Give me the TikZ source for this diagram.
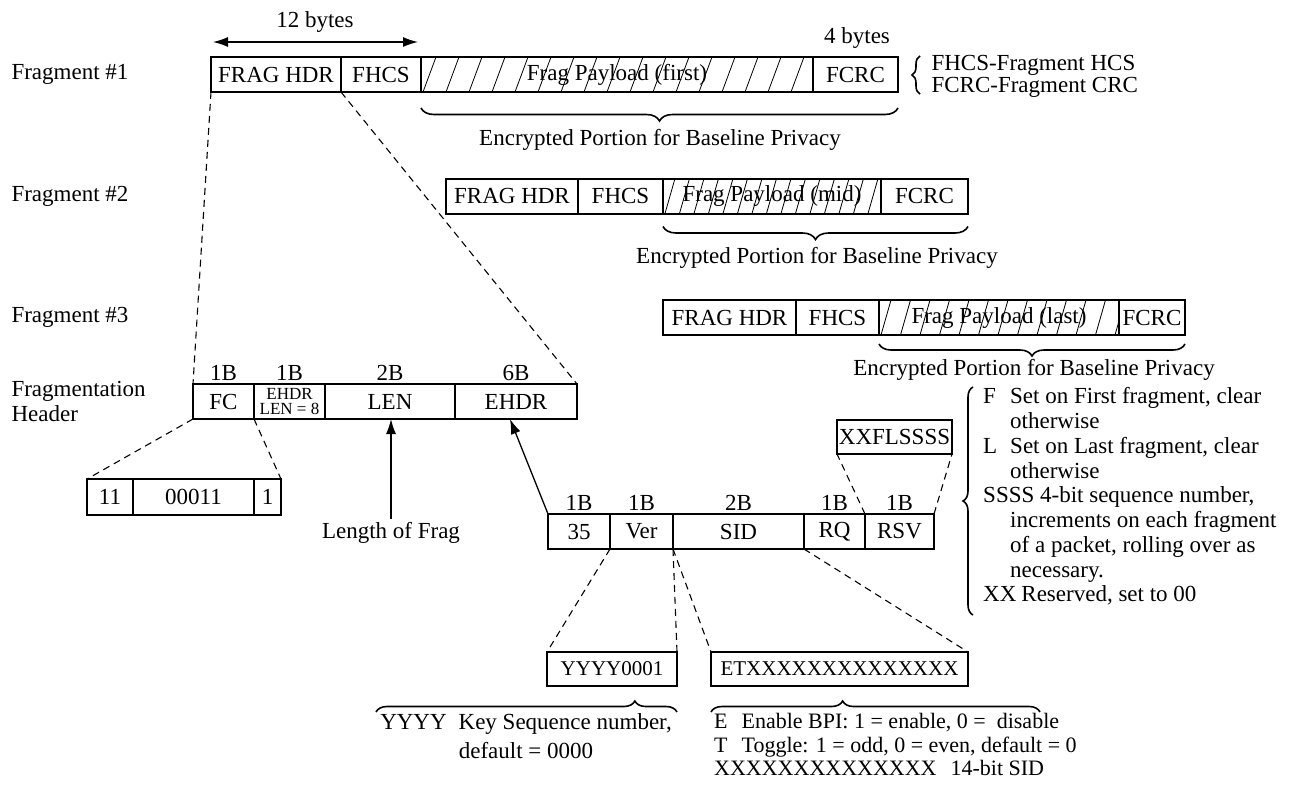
\documentclass[tikz,border=0pt]{standalone}
\usepackage{fontspec}
\setmainfont{Liberation Serif}
\usetikzlibrary{decorations.pathreplacing}
\usetikzlibrary{arrows.meta}

\begin{document}
\begin{tikzpicture}[x=1pt, y=-1pt, font=\fontsize{23}{24.75}\selectfont,
	field/.style={draw, line width=2pt, inner sep=0pt, outer sep=0pt, minimum height=35pt, anchor=west},
	bytelbl/.style={anchor=south, inner sep=3pt},
	zoomline/.style={line width=1.1pt, dash pattern=on 7pt off 5pt},
	hatch/.style={line width=0.8pt},
	curly/.style={decorate, decoration={brace, amplitude=13pt}, line width=1.6pt},
	pointer/.style={line width=1.3pt, -{Latex[length=15pt, width=10pt]}}]
	\useasboundingbox (0,0) rectangle (1292,785);

	\node[anchor=west] (frag1) at (8,74.5) {Fragment \#1};
	\node[anchor=west] (frag2) at (8,196) {Fragment \#2};
	\node[anchor=west] (frag3) at (8,317.5) {Fragment \#3};
	\node[anchor=west, align=left] (fraghdr) at (8,401.5) {Fragmentation\\Header};

	\node[field, minimum width=130pt] (f1hdr) at (211,74.5) {FRAG HDR};
	\node[field, minimum width=80pt] (f1hcs) at (f1hdr.east) {FHCS};
	\node[field, minimum width=392pt] (f1pay) at (f1hcs.east) {Frag Payload (first)};
	\node[field, minimum width=85pt] (f1crc) at (f1pay.east) {FCRC};

	\node[field, minimum width=132pt] (f2hdr) at (446,196) {FRAG HDR};
	\node[field, minimum width=85pt] (f2hcs) at (f2hdr.east) {FHCS};
	\node[field, minimum width=218pt] (f2pay) at (f2hcs.east) {Frag Payload (mid)};
	\node[field, minimum width=87pt] (f2crc) at (f2pay.east) {FCRC};

	\node[field, minimum width=133pt] (f3hdr) at (663,317.5) {FRAG HDR};
	\node[field, minimum width=83pt] (f3hcs) at (f3hdr.east) {FHCS};
	\node[field, minimum width=240pt] (f3pay) at (f3hcs.east) {Frag Payload (last)};
	\node[field, minimum width=66pt] (f3crc) at (f3pay.east) {FCRC};

	\begin{scope}
		\clip (f1pay.north west) rectangle (f1pay.south east);
		\foreach \i in {0,...,17} \draw[hatch] ([xshift=\i*23pt+2pt]f1pay.south west) -- ++(13,-35);
	\end{scope}
	\begin{scope}
		\clip (f2pay.north west) rectangle (f2pay.south east);
		\foreach \i in {0,...,15} \draw[hatch] ([xshift=\i*14.5pt+2pt]f2pay.south west) -- ++(10,-35);
	\end{scope}
	\begin{scope}
		\clip (f3pay.north west) rectangle (f3pay.south east);
		\foreach \i in {0,...,12} \draw[hatch] ([xshift=\i*19.5pt+2pt]f3pay.south west) -- ++(10,-35);
	\end{scope}

	\node (twelve) at (315,22) {12 bytes};
	\coordinate (spanl) at (213,42);
	\coordinate (spanr) at (418,42);
	\draw[line width=1.3pt, {Latex[length=15pt, width=10pt]}-{Latex[length=15pt, width=10pt]}] (spanl) -- (spanr);
	\node (four) at (857,38) {4 bytes};

	\draw[curly, decoration={amplitude=8pt}] (920,94) -- (920,56);
	\node[anchor=west] (fhcsnote) at (928,65) {FHCS-Fragment HCS};
	\node[anchor=west] (fcrcnote) at (928,87) {FCRC-Fragment CRC};

	\draw[curly] ([yshift=-16pt]f1crc.south east) -- ([yshift=-16pt]f1pay.south west);
	\node (enc1) at (660,140) {Encrypted Portion for Baseline Privacy};
	\draw[curly] ([yshift=-13pt]f2crc.south east) -- ([yshift=-13pt]f2pay.south west);
	\node (enc2) at (817,258) {Encrypted Portion for Baseline Privacy};
	\draw[curly, decoration={amplitude=12pt}] ([yshift=-9pt]f3crc.south east) -- ([yshift=-9pt]f3pay.south west);
	\node (enc3) at (1034,370) {Encrypted Portion for Baseline Privacy};

	\node[field, minimum width=61pt] (hfc) at (193,401.5) {FC};
	\node[field, minimum width=71pt, align=center, font=\fontsize{17}{15.5}\selectfont] (hehdr) at (hfc.east) {EHDR\\LEN = 8};
	\node[field, minimum width=130pt] (hlen) at (hehdr.east) {LEN};
	\node[field, minimum width=122pt] (hext) at (hlen.east) {EHDR};
	\node[bytelbl] (szfc) at (hfc.north) {1B};
	\node[bytelbl] (szehdr) at (hehdr.north) {1B};
	\node[bytelbl] (szlen) at (hlen.north) {2B};
	\node[bytelbl] (szext) at (hext.north) {6B};

	\draw[zoomline] (f1hdr.south west) -- (hfc.north west);
	\draw[zoomline] (f1hdr.south east) -- (hext.north east);

	\node[field, minimum width=46pt, minimum height=36pt] (b11) at (87,497) {11};
	\node[field, minimum width=121pt, minimum height=36pt] (b00011) at (b11.east) {00011};
	\node[field, minimum width=27pt, minimum height=36pt] (b1) at (b00011.east) {1};
	\draw[zoomline] (hfc.south west) -- (b11.north west);
	\draw[zoomline] (hfc.south east) -- (b1.north east);

	\node (lenfrag) at (391,533) {Length of Frag};
	\draw[pointer] (lenfrag.north) -- (lenfrag.north |- hlen.south);

	\node[field, minimum width=62pt] (e35) at (548,531.5) {35};
	\node[field, minimum width=63pt] (ever) at (e35.east) {Ver};
	\node[field, minimum width=131pt] (esid) at (ever.east) {SID};
	\node[field, minimum width=61pt] (erq) at (esid.east) {RQ};
	\node[field, minimum width=69pt] (ersv) at (erq.east) {RSV};
	\node[bytelbl] (sz35) at (e35.north) {1B};
	\node[bytelbl] (szver) at (ever.north) {1B};
	\node[bytelbl] (szsid) at (esid.north) {2B};
	\node[bytelbl] (szrq) at (erq.north) {1B};
	\node[bytelbl] (szrsv) at (ersv.north) {1B};

	\coordinate (ehdrtip) at (510,419);
	\draw[pointer] (e35.north west) -- (ehdrtip);

	\node[field, minimum width=115pt, minimum height=34pt] (xxfl) at (837,437) {XXFLSSSS};
	\draw[zoomline] (ersv.north west) -- (xxfl.south west);
	\draw[zoomline] (ersv.north east) -- (xxfl.south east);

	\draw[curly, decoration={amplitude=10pt}] (973,615) -- (973,387);
	\node[anchor=north west, align=left, inner sep=0pt] (flags) at (983,387.5) {\makebox[27pt][l]{F}Set on First fragment, clear\\
		\hspace*{27pt}otherwise\\
		\makebox[27pt][l]{L}Set on Last fragment, clear\\
		\hspace*{27pt}otherwise\\
		SSSS 4-bit sequence number,\\
		\hspace*{27pt}increments on each fragment\\
		\hspace*{27pt}of a packet, rolling over as\\
		\hspace*{27pt}necessary.\\
		XX\hspace{5pt}Reserved, set to 00};

	\node[field, minimum width=130pt, minimum height=34pt, font=\fontsize{21}{23}\selectfont] (yyyy) at (547,669) {YYYY0001};
	\node[field, minimum width=257pt, minimum height=34pt, font=\fontsize{21}{23}\selectfont] (etx) at (711,669) {ETXXXXXXXXXXXXXX};
	\draw[zoomline] (ever.south west) -- (yyyy.north west);
	\draw[zoomline] (ever.south east) -- (yyyy.north east);
	\draw[zoomline] (esid.south west) -- (etx.north west);
	\draw[zoomline] (esid.south east) -- (etx.north east);

	\draw[curly, decoration={amplitude=11pt, aspect=0.86}] (376,712) -- (677,712);
	\draw[curly, decoration={amplitude=11pt, aspect=0.4}] (711,712) -- (1040,712);
	\node[anchor=north, align=center, inner sep=0pt, font=\fontsize{23}{29}\selectfont] (yyyynote) at (526,713.5) {YYYY\hspace{12pt}Key Sequence number,\\default = 0000};
	\node[anchor=north west, align=left, inner sep=0pt, font=\fontsize{22}{23.5}\selectfont] (etxnote) at (714,713.5) {E\hspace{14pt}Enable BPI: 1 = enable, 0 =\ \ disable\\
		T\hspace{14pt}Toggle: 1 = odd, 0 = even, default = 0\\
		XXXXXXXXXXXXXX\hspace{14pt}14-bit SID};
\end{tikzpicture}
\end{document}
